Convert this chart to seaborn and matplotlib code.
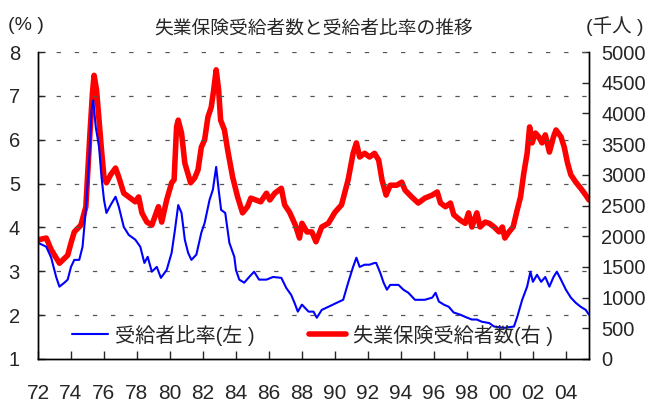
import matplotlib
matplotlib.use('Agg')
import matplotlib.pyplot as plt
import seaborn as sns

# 受給者比率 (%), left axis
ratio_year = [1972.0, 1972.5, 1972.8, 1973.1, 1973.3, 1973.6, 1973.8, 1974.0, 1974.2, 1974.5,
              1974.7, 1974.9, 1975.1, 1975.25, 1975.35, 1975.5, 1975.7, 1975.85, 1976.0, 1976.15,
              1976.4, 1976.7, 1976.9, 1977.2, 1977.5, 1977.9, 1978.2, 1978.45, 1978.65, 1978.9,
              1979.2, 1979.45, 1979.8, 1980.1, 1980.3, 1980.5, 1980.7, 1980.9, 1981.1, 1981.3,
              1981.6, 1981.9, 1982.1, 1982.4, 1982.6, 1982.8, 1982.95, 1983.1, 1983.35, 1983.6,
              1983.9, 1984.0, 1984.2, 1984.5, 1984.8, 1985.1, 1985.4, 1985.85, 1986.25, 1986.75,
              1987.05, 1987.35, 1987.55, 1987.75, 1988.0, 1988.4, 1988.7, 1988.9, 1989.2, 1989.6,
              1990.1, 1990.5, 1990.8, 1991.1, 1991.3, 1991.5, 1991.8, 1992.1, 1992.4, 1992.5,
              1992.75, 1992.95, 1993.15, 1993.35, 1993.85, 1994.15, 1994.45, 1994.85, 1995.45, 1995.9,
              1996.1, 1996.3, 1996.6, 1996.9, 1997.2, 1997.6, 1997.9, 1998.3, 1998.6, 1998.9,
              1999.35, 1999.65, 2000.25, 2000.85, 2001.05, 2001.35, 2001.65, 2001.85, 2002.0, 2002.25,
              2002.5, 2002.75, 2003.0, 2003.25, 2003.45, 2003.7, 2004.0, 2004.3, 2004.6, 2004.9,
              2005.2, 2005.4]
ratio_pct = [3.65, 3.56, 3.31, 2.87, 2.65, 2.74, 2.81, 3.10, 3.26, 3.26,
             3.56, 4.40, 5.54, 6.68, 6.90, 6.29, 5.84, 5.15, 4.63, 4.33,
             4.51, 4.70, 4.47, 4.01, 3.83, 3.72, 3.56, 3.19, 3.33, 2.99,
             3.10, 2.85, 3.03, 3.42, 3.94, 4.51, 4.33, 3.72, 3.42, 3.26,
             3.38, 3.88, 4.10, 4.63, 4.86, 5.38, 4.86, 4.40, 4.33, 3.65,
             3.33, 3.03, 2.81, 2.74, 2.87, 2.99, 2.81, 2.81, 2.87, 2.85,
             2.62, 2.46, 2.28, 2.08, 2.24, 2.08, 2.08, 1.94, 2.12, 2.19,
             2.28, 2.35, 2.74, 3.10, 3.31, 3.10, 3.15, 3.15, 3.19, 3.19,
             2.96, 2.74, 2.58, 2.69, 2.69, 2.58, 2.51, 2.35, 2.35, 2.40,
             2.51, 2.31, 2.24, 2.19, 2.06, 2.01, 1.96, 1.90, 1.90, 1.85,
             1.82, 1.74, 1.71, 1.74, 1.96, 2.35, 2.65, 2.99, 2.76, 2.92,
             2.76, 2.87, 2.65, 2.87, 2.99, 2.81, 2.58, 2.40, 2.28, 2.19,
             2.12, 2.01]

# 失業保険受給者数 (千人), right axis
count_year = [1972.0, 1972.5, 1972.8, 1973.3, 1973.8, 1974.0, 1974.2, 1974.6, 1974.9, 1975.0,
              1975.15, 1975.3, 1975.4, 1975.55, 1975.7, 1975.85, 1976.0, 1976.15, 1976.4, 1976.7,
              1976.9, 1977.2, 1977.6, 1977.9, 1978.1, 1978.3, 1978.6, 1978.9, 1979.3, 1979.5,
              1979.8, 1980.1, 1980.25, 1980.4, 1980.5, 1980.7, 1980.9, 1981.25, 1981.5, 1981.7,
              1981.9, 1982.1, 1982.3, 1982.5, 1982.65, 1982.8, 1982.95, 1983.07, 1983.3, 1983.5,
              1983.8, 1984.1, 1984.4, 1984.7, 1984.9, 1985.2, 1985.5, 1985.85, 1986.05, 1986.35,
              1986.75, 1986.95, 1987.25, 1987.6, 1987.85, 1988.0, 1988.3, 1988.6, 1988.85, 1989.2,
              1989.6, 1990.0, 1990.4, 1990.8, 1991.1, 1991.3, 1991.5, 1991.8, 1992.1, 1992.4,
              1992.65, 1992.85, 1993.1, 1993.35, 1993.75, 1994.05, 1994.25, 1994.65, 1995.05, 1995.45,
              1995.9, 1996.2, 1996.4, 1996.7, 1997.0, 1997.2, 1997.6, 1997.9, 1998.1, 1998.3,
              1998.6, 1998.8, 1999.1, 1999.35, 1999.65, 1999.95, 2000.15, 2000.3, 2000.55, 2000.8,
              2001.05, 2001.25, 2001.45, 2001.65, 2001.8, 2001.95, 2002.15, 2002.35, 2002.55, 2002.75,
              2003.0, 2003.25, 2003.4, 2003.7, 2003.9, 2004.1, 2004.3, 2004.6, 2004.9, 2005.2,
              2005.4]
count_k = [1940, 1970, 1780, 1560, 1690, 1890, 2070, 2180, 2480, 2960,
           3680, 4330, 4620, 4380, 3890, 3400, 2960, 2870, 3000, 3110,
           2960, 2700, 2620, 2560, 2640, 2380, 2230, 2180, 2480, 2230,
           2590, 2870, 2920, 3780, 3890, 3680, 3190, 2870, 2950, 3080,
           3450, 3570, 3940, 4100, 4380, 4710, 4380, 3890, 3730, 3400,
           2960, 2640, 2380, 2480, 2620, 2590, 2560, 2700, 2590, 2700,
           2780, 2510, 2390, 2180, 1970, 2210, 2070, 2070, 1910, 2150,
           2210, 2390, 2510, 2920, 3350, 3520, 3290, 3350, 3290, 3350,
           3240, 2920, 2670, 2830, 2830, 2880, 2750, 2640, 2540, 2620,
           2670, 2720, 2540, 2480, 2540, 2350, 2260, 2210, 2380, 2150,
           2380, 2150, 2230, 2210, 2150, 2070, 2150, 1970, 2070, 2150,
           2430, 2640, 3030, 3350, 3780, 3520, 3680, 3620, 3520, 3650,
           3370, 3620, 3730, 3620, 3450, 3190, 3000, 2880, 2780, 2670,
           2590]

tick_years = list(range(1972, 2005, 2))
tick_labels = [f"{y % 100:02d}" for y in tick_years]

sns.set_style('ticks')
plt.rcParams['font.family'] = ['Liberation Sans', 'Noto Sans CJK JP']

W, H = 660, 408
fig = plt.figure(figsize=(W / 100, H / 100), dpi=100)
ax = fig.add_axes([38 / W, 49 / H, 551 / W, 307 / H])
ax2 = ax.twinx()

sns.lineplot(x=count_year, y=count_k, ax=ax2, color='#ff0000', lw=4.0, legend=False)
sns.lineplot(x=ratio_year, y=ratio_pct, ax=ax, color='#0000ff', lw=1.5, legend=False)

# blue on top of red
ax.set_zorder(ax2.get_zorder() + 1)
ax.patch.set_visible(False)

ax.set_xlim(1972, 2005.4)
ax.set_ylim(1, 8)
ax2.set_ylim(0, 5000)
ax.set_xticks(tick_years)
ax.set_xticklabels(tick_labels)
ax.set_yticks(range(1, 9))
ax2.set_yticks(range(0, 5001, 500))
ax.set_xlabel('')
ax.set_ylabel('')
ax2.set_ylabel('')

for v in range(2, 9):
    ax.axhline(v, color='#555555', lw=0.9, dashes=(3.5, 11), zorder=0)

for a in (ax, ax2):
    a.spines['top'].set_visible(False)
    for s in ('left', 'right', 'bottom'):
        a.spines[s].set_color('black')
        a.spines[s].set_linewidth(1.0)

ax.tick_params(axis='y', direction='in', length=5, width=1, pad=13, labelsize=14.5)
ax.tick_params(axis='x', direction='in', length=6, width=1, pad=18, labelsize=15)
ax2.tick_params(axis='y', direction='in', length=5, width=1, pad=9, labelsize=14.5)

fig.text(314 / W, 1 - 29 / H, '失業保険受給者数と受給者比率の推移', ha='center', va='center', fontsize=13.5)
fig.text(26 / W, 1 - 26 / H, '(% )', ha='center', va='center', fontsize=14)
fig.text(615 / W, 1 - 26 / H, '(千人 )', ha='center', va='center', fontsize=14)

h1 = ax.get_lines()[0]
h2 = ax2.get_lines()[0]
ax.legend([h1, h2], ['受給者比率(左 )', '失業保険受給者数(右 )'], ncol=2, frameon=False,
          loc='center left', bbox_to_anchor=(72 / W, 1 - 335 / H), bbox_transform=fig.transFigure,
          borderpad=0, borderaxespad=0, handlelength=1.8, handletextpad=0.35, columnspacing=2.7,
          fontsize=14.5)

fig.savefig('out.png', dpi=100)
